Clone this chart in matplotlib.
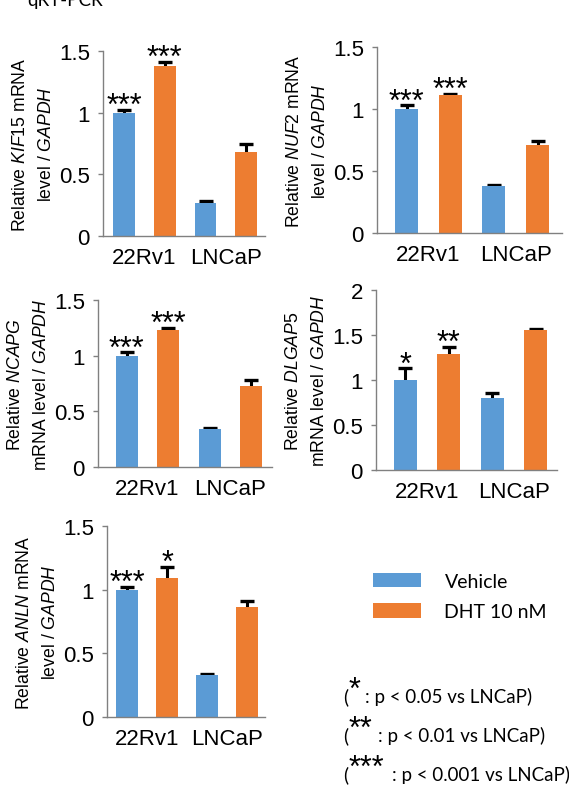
import numpy as np
import matplotlib
matplotlib.use('Agg')
from matplotlib import pyplot as plt

plt.rcParams['font.family'] = ['Liberation Sans', 'DejaVu Sans']
plt.rcParams['mathtext.fontset'] = 'custom'
plt.rcParams['mathtext.rm'] = 'Liberation Sans'
plt.rcParams['mathtext.it'] = 'Liberation Sans:italic'

# data: order is 22Rv1 vehicle, 22Rv1 DHT, LNCaP vehicle, LNCaP DHT
groups = ['22Rv1', 'LNCaP']
conditions = ['Vehicle', 'DHT 10 nM']
colors = ['#5B9BD5', '#ED7D31']

kif15 = [1.00, 1.38, 0.27, 0.68]
kif15_err = [0.02, 0.03, 0.01, 0.07]
kif15_sig = ['***', '***', '', '']

nuf2 = [1.00, 1.11, 0.38, 0.71]
nuf2_err = [0.03, 0.01, 0.01, 0.03]
nuf2_sig = ['***', '***', '', '']

ncapg = [1.00, 1.23, 0.34, 0.73]
ncapg_err = [0.03, 0.02, 0.01, 0.05]
ncapg_sig = ['***', '***', '', '']

dlgap5 = [1.00, 1.29, 0.80, 1.56]
dlgap5_err = [0.13, 0.08, 0.06, 0.01]
dlgap5_sig = ['*', '**', '', '']

anln = [1.00, 1.09, 0.33, 0.86]
anln_err = [0.02, 0.09, 0.01, 0.05]
anln_sig = ['***', '*', '', '']

W, H = 569, 804

def px_rect(l, r, t, b):
    return [l / W, 1 - b / H, (r - l) / W, (b - t) / H]

# panel layout: (values, errors, stars, ylabel, ymax, rect, xlim)
panels = [
    (kif15, kif15_err, kif15_sig, 'Relative $\\mathit{KIF15}$ mRNA\nlevel / $\\mathit{GAPDH}$',
     1.5, px_rect(103, 265, 52, 237), (-0.52, 3.46)),
    (nuf2, nuf2_err, nuf2_sig, 'Relative $\\mathit{NUF2}$ mRNA\nlevel / $\\mathit{GAPDH}$',
     1.5, px_rect(377, 562, 48, 234), (-0.68, 3.56)),
    (ncapg, ncapg_err, ncapg_sig, 'Relative $\\mathit{NCAPG}$\nmRNA level / $\\mathit{GAPDH}$',
     1.5, px_rect(98, 272, 301, 468), (-0.69, 3.5)),
    (dlgap5, dlgap5_err, dlgap5_sig, 'Relative $\\mathit{DLGAP5}$\nmRNA level / $\\mathit{GAPDH}$',
     2.0, px_rect(376, 557, 291, 471), (-0.67, 3.49)),
    (anln, anln_err, anln_sig, 'Relative $\\mathit{ANLN}$ mRNA\nlevel / $\\mathit{GAPDH}$',
     1.5, px_rect(107, 265, 527, 718), (-0.5, 3.45)),
]

fig = plt.figure(figsize=(W / 100, H / 100), dpi=100)
x = np.arange(4)
bar_colors = [colors[0], colors[1], colors[0], colors[1]]
handles = None

for vals, errs, sig, ylab, ymax, rect, xlim in panels:
    ax = fig.add_axes(rect)
    bars = ax.bar(x, vals, width=0.53, color=bar_colors, zorder=2)
    # symmetric bars drawn under the columns, so only the upper half shows
    ax.errorbar(x, vals, yerr=errs, fmt='none', ecolor='black',
                elinewidth=2.2, capsize=5, capthick=2.4, zorder=1)
    for xi, v, e, s in zip(x, vals, errs, sig):
        if s:
            ax.annotate(s, xy=(xi, v + e), xytext=(0, -3), textcoords='offset points',
                        ha='center', va='baseline', fontsize=22)
    if handles is None:
        handles = [bars[0], bars[1]]
    ax.set_xlim(*xlim)
    ax.set_ylim(0, ymax)
    ax.set_yticks(np.arange(0, ymax + 0.01, 0.5))
    ax.set_yticklabels(['{:g}'.format(t) for t in np.arange(0, ymax + 0.01, 0.5)])
    ax.set_xticks([0.5, 2.5])
    ax.set_xticklabels(groups)
    ax.tick_params(axis='x', length=0, pad=8, labelsize=16)
    ax.tick_params(axis='y', length=3.5, width=1, color='#808080', pad=6, labelsize=16)
    for sp in ['top', 'right']:
        ax.spines[sp].set_visible(False)
    for sp in ['left', 'bottom']:
        ax.spines[sp].set_color('#808080')
        ax.spines[sp].set_linewidth(1)
    ax.set_ylabel(ylab, fontsize=12.7, linespacing=1.68, labelpad=3)

# title (cut at the top in the original)
fig.text(27 / W, 1 - 6 / H, 'qRT-PCR', fontsize=13.5, family='Lato', va='baseline')

# legend
fig.legend(handles, conditions, loc='upper left', bbox_to_anchor=(355 / W, 1 - 556 / H),
           frameon=False, prop={'family': 'Lato', 'size': 14}, handlelength=2.5,
           handleheight=0.8, handletextpad=1.2, labelspacing=0.7)

# significance footnotes
notes = [('*', ': p < 0.05 vs LNCaP)', 365, 703),
         ('**', ': p < 0.01 vs LNCaP)', 378, 742),
         ('***', ': p < 0.001 vs LNCaP)', 392, 781)]
for st, txt, xt, yb in notes:
    fig.text(343 / W, 1 - yb / H, '(', fontsize=13.5, family='Lato', va='baseline')
    fig.text(349 / W, 1 - (yb - 4) / H, st, fontsize=22, va='baseline')
    fig.text(xt / W, 1 - yb / H, txt, fontsize=13.5, family='Lato', va='baseline')

plt.savefig('out.png', dpi=100)
